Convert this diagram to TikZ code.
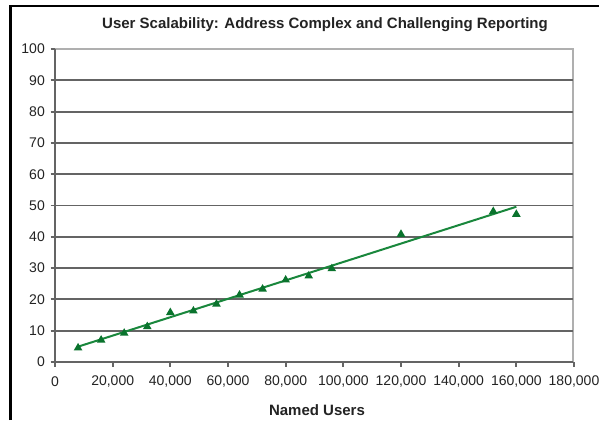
\documentclass[tikz,border=0pt]{standalone}
\usepackage{fontspec}
\setmainfont{Liberation Sans}
\usetikzlibrary{shapes.geometric}
\definecolor{gridc}{RGB}{100,100,100}
\definecolor{lightc}{RGB}{175,175,175}
\definecolor{trendc}{RGB}{25,135,60}
\definecolor{markc}{RGB}{10,115,45}
\definecolor{textc}{RGB}{35,35,35}
\begin{document}
\begin{tikzpicture}[x=1pt,y=-1pt,
  gridline/.style={draw=gridc,line width=1.9pt},
  borderline/.style={draw=lightc,line width=1.8pt},
  ticklab/.style={font=\fontsize{14}{14}\selectfont,text=textc,inner sep=0pt},
  tri/.style={regular polygon,regular polygon sides=3,fill=markc,inner sep=0pt,minimum size=10pt},
  trend/.style={draw=trendc,line width=2pt}]
\useasboundingbox (0,0) rectangle (599,420);
\fill[white] (0,0) rectangle (599,420);
% outer frame
\draw[line width=2.6pt,black] (10.5,420) -- (10.5,6) -- (599,6);
% title
\node[font=\bfseries\fontsize{15}{15}\selectfont,text=textc] (title) at (325,25) {User Scalability: Address Complex and Challenging Reporting};
% plot borders
\draw[borderline] (55,49) -- (573,49) -- (573,362);
% gridlines
\foreach \v in {1,...,9}
  \draw[gridline] (55,{362-\v*31.3}) -- (573,{362-\v*31.3});
% axes
\draw[gridline] (55,49) -- (55,362) -- (573,362);
% y ticks and labels
\foreach \v in {0,10,...,100} {
  \draw[gridline] (50.5,{362-\v*3.13}) -- (55,{362-\v*3.13});
  \node[ticklab,anchor=east] (yl\v) at (45,{362-\v*3.13}) {\v};
}
% x ticks and labels
\foreach \k/\lab in {0/0,20/{20,000},40/{40,000},60/{60,000},80/{80,000},100/{100,000},120/{120,000},140/{140,000},160/{160,000},180/{180,000}} {
  \draw[gridline] ({55+\k*2.8833},362) -- ({55+\k*2.8833},366.5);
  \node[ticklab] (xl\k) at ({55+\k*2.8833},382) {\lab};
}
\node[font=\bfseries\fontsize{15}{15}\selectfont,text=textc] (xtitle) at (317,410) {Named Users};
% trendline
\coordinate (t0) at ({55+8*2.8833},{362-4.9*3.13});
\coordinate (t1) at ({55+160*2.8833},{362-49.6*3.13});
\draw[trend] (t0) -- (t1);
% data points
\foreach \i/\k/\v in {1/8/4.5,2/16/7.0,3/24/9.2,4/32/11.3,5/40/15.8,6/48/16.3,7/56/18.5,8/64/21.4,9/72/23.3,10/80/26.2,11/88/27.5,12/96/29.8,13/120/40.8,14/152/48.1,15/160/47.2}
  \node[tri] (p\i) at ({55+\k*2.8833},{362-\v*3.13}) {};
\end{tikzpicture}
\end{document}
